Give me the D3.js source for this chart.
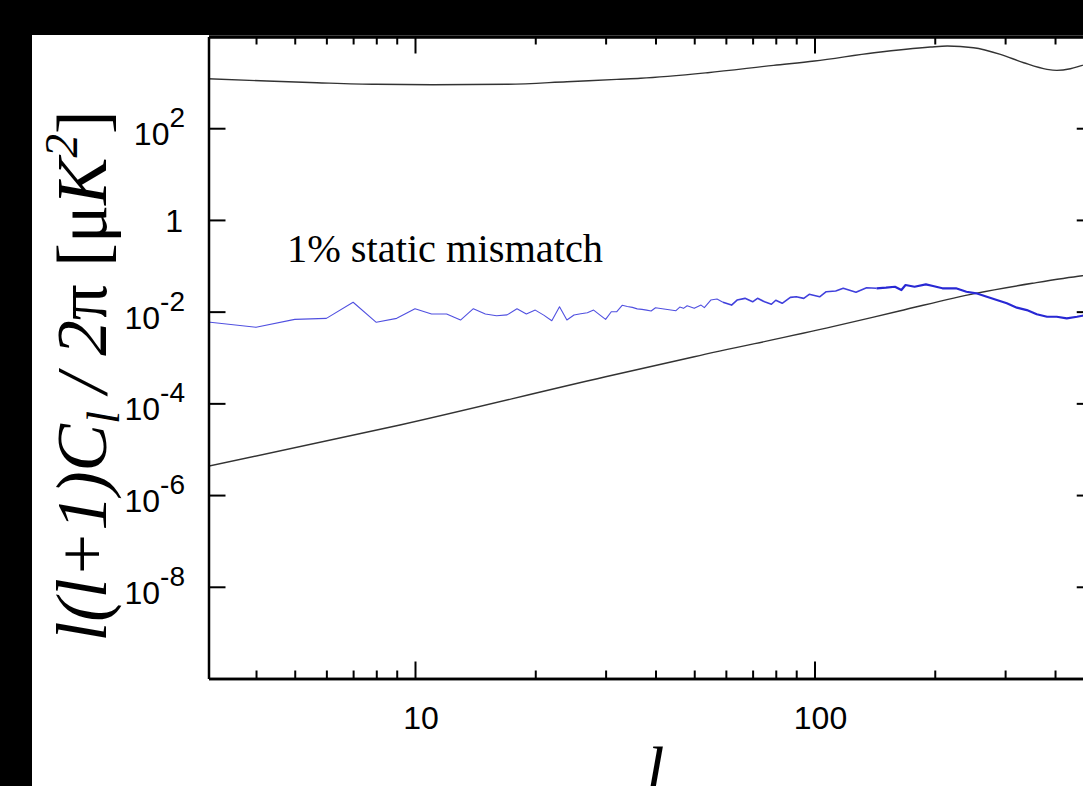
<!DOCTYPE html>
<html>
<head>
<meta charset="utf-8">
<script src="https://d3js.org/d3.v7.min.js"></script>
<style>
  html, body { margin: 0; padding: 0; background: #000; }
  svg { display: block; }
</style>
</head>
<body>
<script>
// ---------------- data ----------------
// Top black curve: CMB temperature spectrum [muK^2]
const ellTT = [3, 4.26, 5.68, 8.0, 11.1, 17, 24, 32, 36.7, 54, 79, 100, 141, 195, 215, 250, 292, 334, 382, 404, 437, 468, 500];
const valTT = [1199, 1068, 982, 906, 888, 906, 1031, 1164, 1225, 1622, 2350, 2917, 4425, 5890, 6195, 5690, 4085, 2679, 1923, 1828, 1982, 2350, 2750];

// Lower black line: lensing B-mode-like spectrum
const ellBB = [3, 9.17, 30, 50, 111, 163, 253, 351, 468, 500];
const valBB = [4.15e-6, 3.37e-5, 3.8e-4, 1.04e-3, 4.7e-3, 0.01033, 0.0251, 0.0415, 0.0607, 0.065];

// Blue curve: 1% static mismatch residual
const ellMis = [3, 4, 5, 6, 7, 8, 9, 10, 11, 12, 13, 14, 15, 16, 17, 18, 19, 20, 21, 22, 23, 24, 25, 26, 27, 28, 29, 30,
  31, 32, 33, 34, 35, 36, 37, 38,
  39, 40, 42, 45, 46, 47, 48, 50, 52, 53,
  55, 57, 59, 62, 64, 67, 70, 72, 75, 78,
  80, 83, 87, 90, 94, 97, 103, 107, 113, 118,
  127, 135, 143, 151, 159, 165, 169, 178, 190, 198,
  209, 226, 240, 254, 270, 286, 303, 321, 340, 360,
  382, 404, 428, 454, 468, 500];
const valMis = [0.00603, 0.00455, 0.00679, 0.00714, 0.0160, 0.00585, 0.00714, 0.0116, 0.00887, 0.00887, 0.00656, 0.0116, 0.00887, 0.00815, 0.0085, 0.0116, 0.00887, 0.0108, 0.0084, 0.00634, 0.0128, 0.00656, 0.00843, 0.0090, 0.00946, 0.0108, 0.0085, 0.00679,
  0.00995, 0.0100, 0.01374, 0.0130, 0.0124, 0.0115, 0.0112, 0.0108,
  0.0103, 0.01216, 0.0114, 0.0105, 0.0126, 0.0118, 0.01346, 0.0118, 0.0139, 0.0122,
  0.0179, 0.0188, 0.0160, 0.0139, 0.0179, 0.0195, 0.0164, 0.0195, 0.0164, 0.0145,
  0.0177, 0.0152, 0.0205, 0.0211, 0.0195, 0.0239, 0.0211, 0.0272, 0.0282, 0.0323,
  0.0264, 0.0333, 0.0323, 0.0333, 0.0349, 0.0296, 0.0381, 0.0349, 0.0394, 0.0362,
  0.0323, 0.0323, 0.0272, 0.0251, 0.0211, 0.0179, 0.0152, 0.0122, 0.0108, 0.00875,
  0.00774, 0.00774, 0.00714, 0.00774, 0.00815, 0.0080];

// ticks
const xMajorTicks = [10, 100];
const xMinorTicks = [4, 5, 6, 7, 8, 9, 20, 30, 40, 50, 60, 70, 80, 90, 200, 300, 400];
const yTicks = [1e2, 1, 1e-2, 1e-4, 1e-6, 1e-8];
const yTickLabels = [["10", "2"], ["1", ""], ["10", "-2"], ["10", "-4"], ["10", "-6"], ["10", "-8"]];
const xTickLabels = ["10", "100"];
const annotation = "1% static mismatch";

// ---------------- layout ----------------
const W = 1083, H = 786;
const svg = d3.select("body").append("svg").attr("width", W).attr("height", H);

svg.append("rect").attr("width", W).attr("height", H).attr("fill", "#000");
svg.append("rect").attr("x", 32).attr("y", 35).attr("width", W - 32).attr("height", H - 35).attr("fill", "#fff");

const xRef = d3.scaleLog().domain([10, 100]).range([415, 814.5]);
const plotLeft = 208.5;
const xMin = xRef.invert(plotLeft);
const x = d3.scaleLog().domain([xMin, 500]).range([plotLeft, xRef(500)]);
const plotRight = x(500);
const y = d3.scaleLog().domain([1e-10, 1e4]).range([678.5, 36.5]);
const plotTop = y(1e4), plotBottom = y(1e-10);

svg.append("defs").append("clipPath").attr("id", "plotclip")
  .append("rect").attr("x", plotLeft).attr("y", plotTop).attr("width", plotRight - plotLeft).attr("height", plotBottom - plotTop);

// ---------------- curves ----------------
const line = d3.line().x(d => x(d[0])).y(d => y(d[1])).curve(d3.curveMonotoneX);
const lineStraight = d3.line().x(d => x(d[0])).y(d => y(d[1]));
const g = svg.append("g").attr("clip-path", "url(#plotclip)");

g.append("path").datum(d3.zip(ellTT, valTT)).attr("d", line)
  .attr("fill", "none").attr("stroke", "#333").attr("stroke-width", 1.4);
g.append("path").datum(d3.zip(ellBB, valBB)).attr("d", line)
  .attr("fill", "none").attr("stroke", "#333").attr("stroke-width", 1.4);

const mis = d3.zip(ellMis, valMis);
// low multipoles: thin line; high multipoles: the dense, noisy band looks thicker
g.append("path").datum(mis.filter(d => d[0] <= 60)).attr("d", lineStraight)
  .attr("fill", "none").attr("stroke", "#5050e0").attr("stroke-width", 1.1).attr("stroke-linejoin", "round");
g.append("path").datum(mis.filter(d => d[0] >= 59 && d[0] <= 150)).attr("d", lineStraight)
  .attr("fill", "none").attr("stroke", "#4040dc").attr("stroke-width", 1.6).attr("stroke-linejoin", "round");
g.append("path").datum(mis.filter(d => d[0] >= 143)).attr("d", lineStraight)
  .attr("fill", "none").attr("stroke", "#2828d4").attr("stroke-width", 2.2).attr("stroke-linejoin", "round");

// ---------------- axes ----------------
function styleAxis(sel, w) {
  sel.select(".domain").attr("stroke", "#000").attr("stroke-width", w);
  sel.selectAll(".tick line").attr("stroke", "#000").attr("stroke-width", 2);
  sel.selectAll(".tick text").remove();
}
// bottom
svg.append("g").attr("transform", `translate(0,${plotBottom})`)
  .call(d3.axisBottom(x).tickValues(xMinorTicks).tickSizeInner(-8).tickSizeOuter(0).tickFormat(""))
  .call(s => styleAxis(s, 2.5));
svg.append("g").attr("transform", `translate(0,${plotBottom})`)
  .call(d3.axisBottom(x).tickValues(xMajorTicks).tickSizeInner(-17).tickSizeOuter(0).tickFormat(""))
  .call(s => styleAxis(s, 2.5));
// top
svg.append("g").attr("transform", `translate(0,${plotTop})`)
  .call(d3.axisTop(x).tickValues(xMinorTicks).tickSizeInner(-8).tickSizeOuter(0).tickFormat(""))
  .call(s => styleAxis(s, 3));
svg.append("g").attr("transform", `translate(0,${plotTop})`)
  .call(d3.axisTop(x).tickValues(xMajorTicks).tickSizeInner(-17).tickSizeOuter(0).tickFormat(""))
  .call(s => styleAxis(s, 3));
// left / right
svg.append("g").attr("transform", `translate(${plotLeft},0)`)
  .call(d3.axisLeft(y).tickValues(yTicks).tickSizeInner(-17).tickSizeOuter(0).tickFormat(""))
  .call(s => styleAxis(s, 2.5));
svg.append("g").attr("transform", `translate(${plotRight},0)`)
  .call(d3.axisRight(y).tickValues(yTicks).tickSizeInner(-17).tickSizeOuter(0).tickFormat(""))
  .call(s => styleAxis(s, 2.5));

// x tick labels
const sans = "'Liberation Sans', Arial, sans-serif";
const serif = "'Liberation Serif', 'Times New Roman', serif";
svg.append("g").selectAll("text").data(xMajorTicks).join("text")
  .attr("x", d => x(d) + 6).attr("y", 729)
  .attr("text-anchor", "middle").attr("font-family", sans).attr("font-size", 32).attr("fill", "#000")
  .text((d, i) => xTickLabels[i]);

// y tick labels
yTicks.forEach((v, i) => {
  const [base, sup] = yTickLabels[i];
  const ty = y(v);
  const t = svg.append("text").attr("text-anchor", "end").attr("font-family", sans).attr("fill", "#000")
    .attr("x", 185);
  if (sup === "") {
    t.attr("x", 183).attr("y", ty + 12).attr("font-size", 32).text(base);
  } else {
    t.attr("y", ty + 17);
    t.append("tspan").attr("font-size", 32).text(base);
    t.append("tspan").attr("font-size", 28).attr("dy", -18).text(sup);
  }
});

// annotation
svg.append("text").attr("x", 287).attr("y", 262)
  .attr("font-family", serif).attr("font-size", 40).attr("fill", "#000")
  .attr("textLength", 316).attr("lengthAdjust", "spacingAndGlyphs")
  .text(annotation);

// x axis label
svg.append("text").attr("x", (plotLeft + plotRight) / 2 + 4).attr("y", 792)
  .attr("text-anchor", "middle").attr("font-family", serif).attr("font-style", "italic")
  .attr("font-size", 66).attr("fill", "#000").text("l");

// y axis label
const yl = svg.append("text")
  .attr("transform", "translate(106,376) rotate(-90)")
  .attr("text-anchor", "middle").attr("font-family", serif).attr("font-size", 71).attr("fill", "#000");
yl.append("tspan").attr("font-style", "italic").text("l(l+1)C");
yl.append("tspan").attr("font-style", "italic").attr("font-size", 47).attr("dy", 13).text("l");
yl.append("tspan").attr("font-style", "italic").attr("dy", -13).text(" / 2");
yl.append("tspan").text("\u03C0 [\u03BC");
yl.append("tspan").attr("font-style", "italic").text("K");
yl.append("tspan").attr("font-style", "italic").attr("font-size", 47).attr("dy", -29).text("2");
yl.append("tspan").attr("dy", 29).text("]");
</script>
</body>
</html>
